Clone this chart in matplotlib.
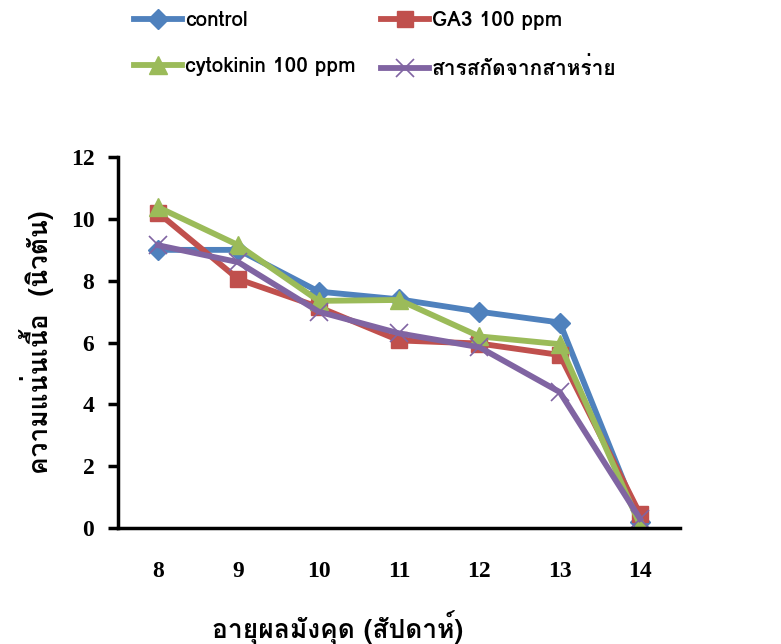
import matplotlib
matplotlib.use("Agg")
import matplotlib.pyplot as plt
from matplotlib import font_manager
from matplotlib.ft2font import FT2Font

weeks = ["8", "9", "10", "11", "12", "13", "14"]
control = [9.0, 9.0, 7.65, 7.4, 7.0, 6.65, 0.2]
ga3 = [10.2, 8.05, 7.15, 6.07, 5.97, 5.6, 0.45]
cytokinin = [10.38, 9.15, 7.35, 7.38, 6.2, 5.95, 0.1]
seaweed = [9.15, 8.6, 7.0, 6.3, 5.85, 4.4, 0.3]
series_names = ["control", "GA3 100 ppm", "cytokinin 100 ppm", "สารสกัดจากสาหร่าย"]
ylabel = "ความแน่นเนื้อ  (นิวตัน)"
xlabel = "อายุผลมังคุด (สัปดาห์)"

# find a font with Thai glyphs, if any
thai_fams = []
for f in font_manager.fontManager.ttflist:
    try:
        cm = FT2Font(f.fname).get_charmap()
        if 0x0E01 in cm and f.name not in thai_fams:
            thai_fams.append(f.name)
    except Exception:
        pass
fams = thai_fams + ["DejaVu Sans"]
plt.rcParams['font.family'] = fams

fig = plt.figure(figsize=(7.81, 6.44), dpi=100)
ax = fig.add_axes([0.151, 0.180, 0.72, 0.576])

x = list(range(len(weeks)))
colors = ["#4F81BD", "#C0504D", "#9BBB59", "#8064A2"]
markers = ["D", "s", "^", "x"]
msizes = [10, 12, 13, 13]
datas = [control, ga3, cytokinin, seaweed]
lines = []
for d, c, m, ms, n in zip(datas, colors, markers, msizes, series_names):
    mew = 1.2 if m == "x" else 1
    ln, = ax.plot(x, d, color=c, lw=4.2, marker=m, ms=ms, mew=mew, mec=c, mfc=c, label=n)
    lines.append(ln)

ax.set_xlim(-0.5, 6.5)
ax.set_ylim(0, 12)
ax.set_yticks(range(0, 13, 2))
ax.set_xticks(x)
ax.set_xticklabels(weeks)
for s in ["top", "right"]:
    ax.spines[s].set_visible(False)
ax.spines["left"].set_linewidth(2.5)
ax.spines["bottom"].set_linewidth(2.5)
ax.tick_params(axis="y", direction="out", length=7, width=2.5, pad=10)
ax.tick_params(axis="x", length=0, pad=24)
for lab in ax.get_yticklabels() + ax.get_xticklabels():
    lab.set_fontfamily(["Liberation Serif", "DejaVu Serif"])
    lab.set_fontweight("bold")
    lab.set_fontsize(17)

ax.set_ylabel(ylabel, fontsize=19, fontweight="bold", labelpad=12)
fig.text(338 / 781, 1 - 628 / 644, xlabel, fontsize=19, fontweight="bold", ha="center", va="center")

order = [0, 2, 1, 3]
leg = fig.legend([lines[i] for i in order], [series_names[i] for i in order],
                 loc="upper left", bbox_to_anchor=(0.148, 1.012), ncol=2, frameon=False,
                 prop={"weight": "bold", "size": 15}, handlelength=2.3,
                 columnspacing=1.2, labelspacing=1.3, handletextpad=0.15)

fig.savefig("out.png", dpi=100)
